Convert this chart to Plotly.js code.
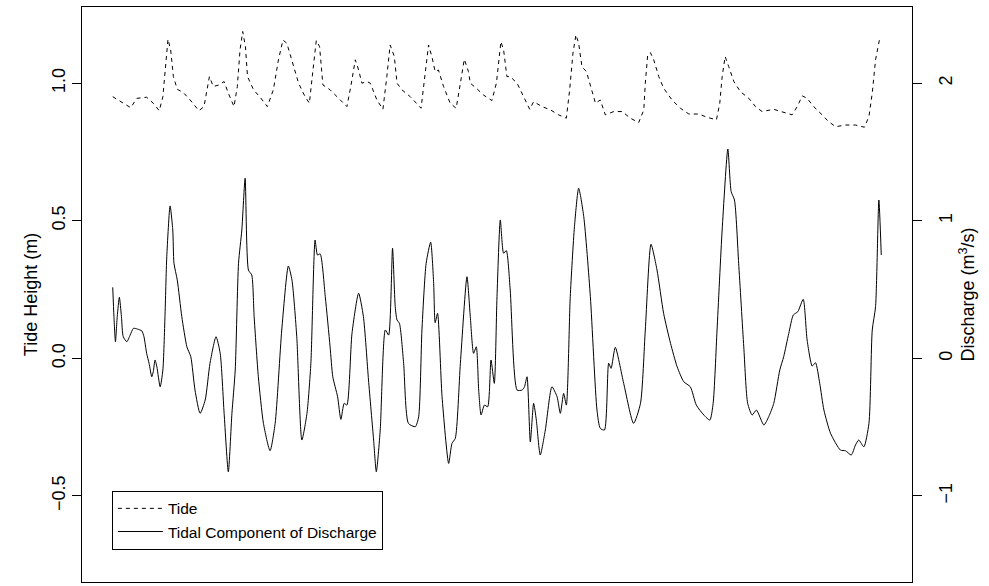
<!DOCTYPE html>
<html>
<head>
<meta charset="utf-8">
<script src="https://cdn.plot.ly/plotly-3.0.1.min.js"></script>
<style>
html,body{margin:0;padding:0;background:#fff;}
#chart{width:989px;height:586px;}
</style>
</head>
<body>
<div id="chart"></div>
<script>
// Tide height (m), hours since start
const tideHours = [0.0,3.5,6.0,8.0,11.3,13.5,15.5,16.7,17.5,18.4,19.3,20.2,21.5,23.5,25.8,28.7,30.4,31.3,32.2,33.5,35.5,37.1,38.5,40.4,41.5,42.4,43.3,44.2,44.9,46.9,49.1,51.5,53.5,55.2,56.7,58.0,59.7,61.9,63.8,65.5,66.7,67.8,68.9,70.0,72.4,75.2,78.0,79.3,80.8,81.9,83.0,84.7,85.8,88.0,90.0,91.3,92.4,93.8,94.7,96.3,99.1,102.7,104.1,105.2,106.3,107.4,108.5,110.2,112.4,114.4,115.8,117.1,118.5,119.1,121.1,123.5,126.3,127.8,129.3,130.2,131.3,132.4,134.7,136.9,138.9,140.2,143.0,145.8,148.5,151.1,152.2,153.3,154.3,155.2,156.3,157.8,159.1,160.8,162.4,164.1,166.9,169.7,172.4,175.2,176.9,177.4,178.2,179.1,180.2,181.9,183.5,186.3,189.1,191.9,195.2,198.0,201.1,202.2,203.0,204.0,205.2,206.9,209.1,211.9,214.1,216.3,220.2,223.0,226.3,228.0,229.7,231.3,233.5,236.3,238.5,240.8,244.1,247.4,250.4,251.9,253.0,254.1,255.5];
const tideHeight = [0.951,0.927,0.911,0.945,0.949,0.927,0.900,0.951,1.048,1.160,1.121,1.024,0.978,0.966,0.939,0.900,0.915,0.976,1.024,0.988,0.994,1.006,0.964,0.915,0.988,1.121,1.188,1.133,1.024,0.976,0.949,0.915,0.976,1.085,1.157,1.145,1.085,1.000,0.957,0.927,1.048,1.155,1.133,0.994,0.976,0.945,0.915,0.988,1.085,1.048,1.000,1.006,1.000,0.939,0.905,1.024,1.139,1.097,1.000,0.976,0.951,0.909,1.048,1.139,1.097,1.042,1.048,0.988,0.927,0.909,1.000,1.087,1.042,1.000,0.982,0.957,0.937,1.000,1.151,1.121,1.024,1.024,1.000,0.951,0.905,0.933,0.915,0.903,0.885,0.873,0.976,1.109,1.176,1.145,1.060,1.042,0.988,0.927,0.939,0.885,0.897,0.897,0.873,0.857,0.903,1.000,1.103,1.111,1.085,1.024,0.982,0.939,0.909,0.888,0.888,0.876,0.867,0.927,1.024,1.097,1.060,1.006,0.969,0.945,0.915,0.897,0.905,0.897,0.885,0.915,0.954,0.945,0.915,0.885,0.860,0.842,0.848,0.848,0.840,0.879,0.964,1.085,1.164];

// Tidal component of discharge (m^3/s)
const dischargeHours = [0.0,0.4,0.9,1.5,2.2,2.9,3.5,4.7,5.8,6.9,8.2,9.7,10.4,11.3,12.1,13.0,13.5,14.1,14.7,15.8,16.7,17.4,18.0,19.1,20.0,20.4,21.5,23.0,24.7,26.0,27.4,29.1,30.8,32.4,34.4,35.8,37.1,38.5,39.7,40.8,41.9,43.0,44.1,45.2,46.3,47.1,48.5,50.2,52.4,54.1,56.3,58.5,59.7,61.3,63.0,64.7,66.0,67.4,68.2,69.1,70.8,72.4,73.3,74.9,76.0,77.1,78.0,79.7,81.9,83.5,85.2,86.9,87.8,89.1,90.8,91.9,93.2,94.1,94.7,95.5,96.9,98.5,100.8,101.9,103.0,104.4,105.9,106.9,107.4,108.2,109.7,111.9,113.0,114.1,115.8,118.0,119.1,120.2,121.1,121.9,122.7,123.8,124.9,126.0,127.1,128.0,129.1,130.2,131.1,132.4,134.7,136.3,137.1,138.0,139.1,140.2,141.1,142.4,144.1,146.3,148.0,149.1,150.2,151.1,152.4,153.8,155.2,156.9,159.1,161.3,162.4,163.8,165.2,166.0,167.4,170.2,173.5,175.8,177.4,179.3,181.3,183.5,185.8,188.0,190.2,192.4,194.4,196.9,198.9,200.0,201.3,203.0,204.9,206.0,207.1,208.5,210.2,211.5,213.0,214.4,216.9,218.5,220.2,222.2,223.5,225.2,226.7,228.2,230.0,231.3,233.0,234.1,235.5,236.9,239.1,242.4,244.1,246.0,247.4,248.5,250.2,251.9,253.0,254.1,255.2,256.0];
const dischargeVals = [0.516,0.303,0.121,0.303,0.444,0.303,0.157,0.121,0.169,0.218,0.213,0.199,0.157,0.036,-0.036,-0.134,-0.097,-0.012,-0.061,-0.207,-0.085,0.303,0.739,1.108,0.933,0.691,0.569,0.303,0.084,0.012,-0.231,-0.400,-0.303,-0.036,0.157,0.036,-0.400,-0.825,-0.400,-0.085,0.691,0.933,1.309,0.642,0.606,0.303,-0.134,-0.473,-0.672,-0.473,0.206,0.671,0.569,0.157,-0.594,-0.400,-0.036,0.860,0.751,0.759,0.448,0.084,-0.134,-0.279,-0.444,-0.327,-0.340,0.182,0.473,0.303,-0.158,-0.594,-0.825,-0.521,0.206,0.169,0.800,0.375,0.279,0.255,-0.036,-0.473,-0.497,-0.425,0.206,0.691,0.844,0.545,0.259,0.327,-0.279,-0.764,-0.618,-0.582,-0.036,0.593,0.303,0.036,0.084,-0.231,-0.412,-0.340,-0.352,-0.012,-0.182,0.448,1.006,0.764,0.783,0.497,-0.231,-0.231,-0.211,-0.134,-0.607,-0.327,-0.449,-0.703,-0.521,-0.207,-0.279,-0.400,-0.255,-0.340,0.448,0.957,1.236,1.030,0.448,-0.376,-0.509,-0.521,-0.036,-0.073,0.080,-0.182,-0.473,-0.327,0.206,0.829,0.642,0.327,0.109,-0.061,-0.170,-0.207,-0.340,-0.412,-0.449,-0.327,0.206,0.933,1.522,1.212,1.151,0.691,0.084,-0.327,-0.412,-0.376,-0.485,-0.425,-0.327,-0.085,0.012,0.182,0.315,0.339,0.429,0.133,-0.056,-0.032,-0.182,-0.376,-0.545,-0.667,-0.672,-0.703,-0.631,-0.594,-0.643,-0.473,0.206,0.375,1.151,0.751];

const leftTicks = [-0.5, 0, 0.5, 1];
const leftTickText = ["\u22120.5", "0.0", "0.5", "1.0"];
const rightTicks = [-1, 0, 1, 2];
const rightTickText = ["\u22121", "0", "1", "2"];

const FONT = "Liberation Sans, Arial, Helvetica, sans-serif";
const AXFS = 18;
const LEGFS = 15.5;

const traces = [
  {
    x: tideHours, y: tideHeight, yaxis: "y", type: "scatter", mode: "lines",
    name: "Tide",
    line: {color: "#000", width: 1, dash: "4px,4px"}
  },
  {
    x: dischargeHours, y: dischargeVals, yaxis: "y2", type: "scatter", mode: "lines",
    name: "Tidal Component of Discharge",
    line: {color: "#000", width: 1, shape: "spline", smoothing: 0.6}
  }
];

const yTop = 1.277, yBot = -0.813;

const layout = {
  width: 989, height: 586,
  margin: {l: 82, r: 77, t: 7, b: 4, pad: 0},
  paper_bgcolor: "#fff", plot_bgcolor: "#fff",
  font: {family: FONT, size: AXFS, color: "#000"},
  showlegend: true,
  legend: {
    x: 0.036, xanchor: "left", y: 0.056, yanchor: "bottom",
    bordercolor: "#000", borderwidth: 1, bgcolor: "#fff",
    font: {family: FONT, size: LEGFS, color: "#000"},
    itemwidth: 45,
    tracegroupgap: 0
  },
  xaxis: {
    range: [-10.24, 266.24], showgrid: false, zeroline: false,
    showticklabels: false, ticks: "",
    showline: true, mirror: true, linecolor: "#000", linewidth: 1
  },
  yaxis: {
    range: [yBot, yTop], showgrid: false, zeroline: false,
    tickmode: "array", tickvals: leftTicks, ticktext: leftTickText,
    ticks: "outside", ticklen: 9, tickcolor: "#000", tickwidth: 1,
    tickangle: -90, ticklabelstandoff: 0,
    tickfont: {family: FONT, size: AXFS, color: "#000"},
    showline: true, mirror: true, linecolor: "#000", linewidth: 1,
    title: {text: "Tide Height (m)", font: {family: FONT, size: AXFS, color: "#000"}, standoff: 6}
  },
  yaxis2: {
    range: [2 * yBot, 2 * yTop], overlaying: "y", side: "right",
    showgrid: false, zeroline: false,
    tickmode: "array", tickvals: rightTicks, ticktext: rightTickText,
    ticks: "outside", ticklen: 9, tickcolor: "#000", tickwidth: 1,
    tickangle: -90, ticklabelstandoff: 8,
    tickfont: {family: FONT, size: AXFS, color: "#000"},
    showline: false,
    title: {text: "Discharge (m<sup>3</sup>/s)", font: {family: FONT, size: AXFS, color: "#000"}, standoff: 6}
  }
};

Plotly.newPlot("chart", traces, layout, {displayModeBar: false, staticPlot: true});
</script>
</body>
</html>
